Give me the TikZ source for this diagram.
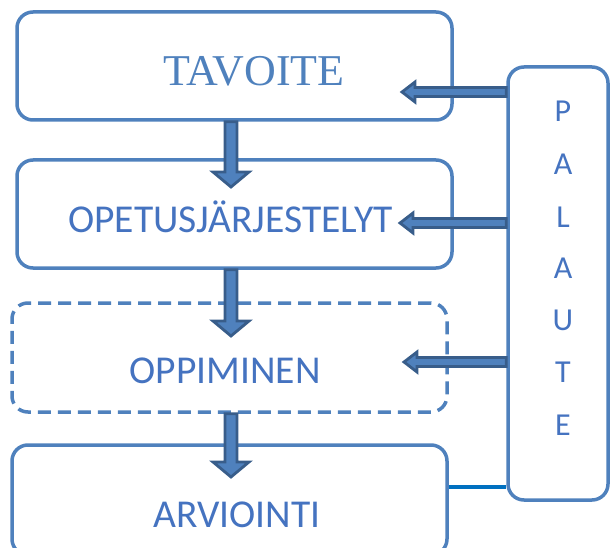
\documentclass[tikz,border=0pt]{standalone}
\usepackage{fontspec}
\setmainfont{Liberation Serif}
\newfontfamily\calib{Carlito}
\usetikzlibrary{calc}
\definecolor{boxblue}{HTML}{4F81BD}
\definecolor{arrdark}{HTML}{385D8A}
\definecolor{txtblue}{HTML}{4573C0}
\definecolor{linkblue}{HTML}{0070C0}
\newcommand\downarr[2]{%
  \draw[blockarrow] let \p1=#1, \p2=#2 in
    (\x1-6,\y1) -- (\x1-6,\y2+15) -- (\x1-18,\y2+15) -- (\x1,\y2)
    -- (\x1+18,\y2+15) -- (\x1+6,\y2+15) -- (\x1+6,\y1) -- cycle;}
\newcommand\leftarr[2]{%
  \draw[blockarrow] let \p1=#1, \p2=#2 in
    (\x1,\y1+4.5) -- (\x2+13,\y1+4.5) -- (\x2+13,\y1+10) -- (\x2,\y1)
    -- (\x2+13,\y1-10) -- (\x2+13,\y1-4.5) -- (\x1,\y1-4.5) -- cycle;}
\begin{document}
\begin{tikzpicture}[x=1pt,y=-1pt,
  box/.style={draw=boxblue,line width=3.5pt,rounded corners=16pt,
    minimum width=435pt,minimum height=108pt,inner sep=0pt},
  lbl/.style={anchor=base,text=txtblue,inner sep=0pt,
    font=\calib\fontsize{39.5}{39.5}\selectfont},
  letter/.style={anchor=base,text=txtblue,inner sep=0pt,
    font=\calib\fontsize{32}{32}\selectfont},
  blockarrow/.style={fill=boxblue,draw=arrdark,line width=2.8pt,line join=miter},
  link/.style={draw=linkblue,line width=4.5pt}]
\useasboundingbox (0,0) rectangle (610,548);
% boxes
\node[box] (t) at (234.5,66) {};
\node[box] (o) at (234.5,214) {};
\node[box,dash pattern=on 13pt off 7pt,minimum height=109pt] (l) at (229.5,357.5) {};
\node[box,minimum height=110pt] (a) at (229.5,500) {};
\node[box,minimum width=100pt,minimum height=433pt] (p) at (558,283.5) {};
% texts
\node[anchor=base,text=boxblue,inner sep=0pt,font=\fontsize{44}{44}\selectfont] (tt) at (254,86) {TAVOITE};
\node[lbl] (ot) at (230.5,232) {OPETUSJÄRJESTELYT};
\node[lbl] (lt) at (225,383) {OPPIMINEN};
\node[lbl] (at) at (237,527) {ARVIOINTI};
\node[letter] (p1) at (563,122) {P};
\node[letter] (p2) at (563,175) {A};
\node[letter] (p3) at (563,227) {L};
\node[letter] (p4) at (563,278) {A};
\node[letter] (p5) at (563,330) {U};
\node[letter] (p6) at (563,382) {T};
\node[letter] (p7) at (563,435) {E};
% tips
\coordinate (d1) at (231,187);
\coordinate (d2) at (231,336);
\coordinate (d3) at (231,477);
\coordinate (h1) at (402,92);
\coordinate (h2) at (400,223);
\coordinate (h3) at (404,362);
\coordinate (lk) at (480,487);
% arrows
\downarr{(t.south -| d1)}{(d1)}
\downarr{(o.south -| d2)}{(d2)}
\downarr{(l.south -| d3)}{(d3)}
\leftarr{(h1 -| p.west)}{(h1)}
\leftarr{(h2 -| p.west)}{(h2)}
\leftarr{(h3 -| p.west)}{(h3)}
\draw[link] (lk -| a.east) -- (lk -| p.west);
\end{tikzpicture}
\end{document}
